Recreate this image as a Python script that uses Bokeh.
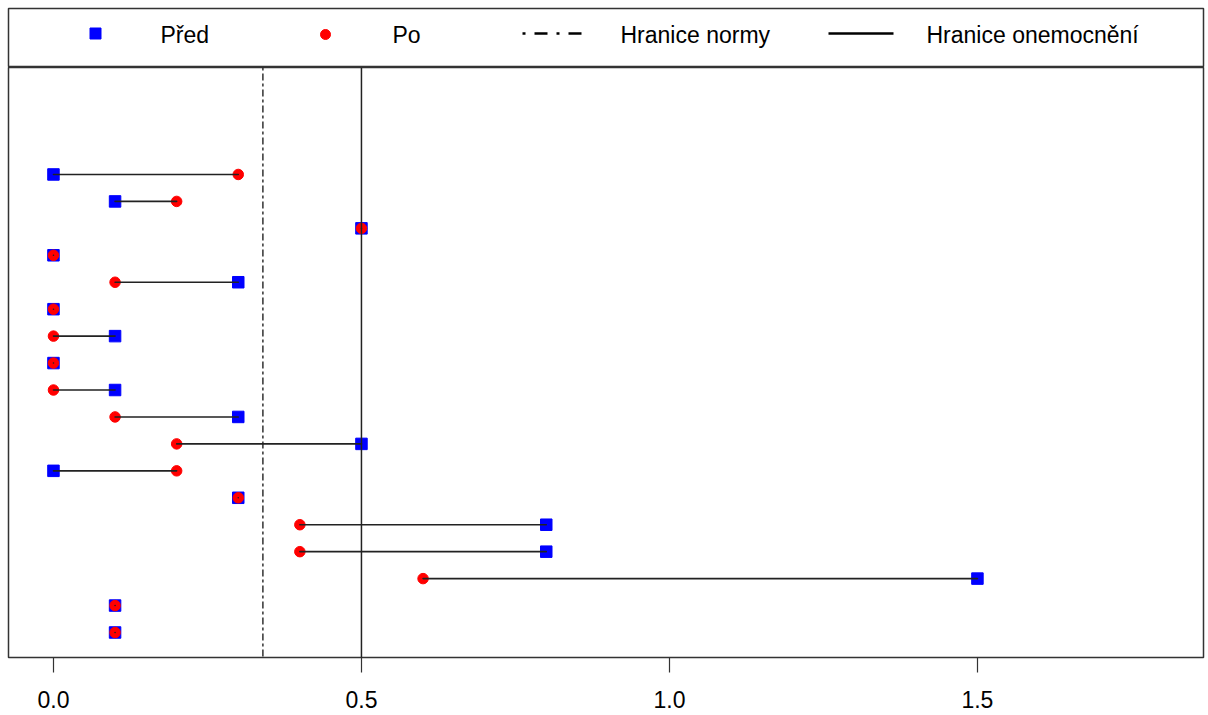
from bokeh.plotting import figure
from bokeh.models import Range1d, Span, FixedTicker, ColumnDataSource
from bokeh.layouts import column
from bokeh.embed import file_html
from bokeh.resources import INLINE
from bokeh.core.properties import value

# Patients listed top to bottom: value before and after treatment
pred = [0.0, 0.1, 0.5, 0.0, 0.3, 0.0, 0.1, 0.0, 0.1, 0.3, 0.5, 0.0, 0.3, 0.8, 0.8, 1.5, 0.1, 0.1]
po   = [0.3, 0.2, 0.5, 0.0, 0.1, 0.0, 0.0, 0.0, 0.0, 0.1, 0.2, 0.2, 0.3, 0.4, 0.4, 0.6, 0.1, 0.1]
row = list(range(len(pred), 0, -1))

norm_limit = 0.34
disease_limit = 0.5

x_ticks = [0.0, 0.5, 1.0, 1.5]
x_tick_labels = ["0.0", "0.5", "1.0", "1.5"]

legend_labels = ["Před", "Po", "Hranice normy", "Hranice onemocnění"]

FONT = "Liberation Sans"
W = 1208

src = ColumnDataSource(dict(pred=pred, po=po, row=row))

# ---- legend strip ----
leg = figure(width=W, height=67, output_backend="svg", toolbar_location=None,
             x_range=Range1d(8, 1203), y_range=Range1d(67, 8),
             min_border_left=8, min_border_right=5, min_border_top=8, min_border_bottom=0)
leg.axis.visible = False
leg.grid.visible = False
leg.outline_line_color = "#333333"
leg.outline_line_width = 1.5
leg.scatter([95], [33], marker="square", size=11, color="#0000FF")
leg.scatter([325], [34], marker="circle", size=10, color="#FF0000")
leg.line([522, 587], [33, 33], line_color="black", line_width=2.5, line_dash="3 9 13 9")
leg.line([828, 893], [33, 33], line_color="black", line_width=2.5)
leg.text(x=[160, 392, 620, 926], y=[34, 34, 34, 34], text=legend_labels,
         text_font=value(FONT), text_font_size="23px", text_color="black",
         text_baseline="middle", text_align="left")

# ---- main panel ----
p = figure(width=W, height=648, output_backend="svg", toolbar_location=None,
           x_range=Range1d(-0.073, 1.867), y_range=Range1d(0.072, 21.97),
           min_border_left=8, min_border_right=5, min_border_top=0, min_border_bottom=58)
p.grid.visible = False
p.yaxis.visible = False
p.outline_line_color = "#333333"
p.outline_line_width = 1.5

p.add_layout(Span(location=norm_limit, dimension="height", line_color="#222222",
                  line_width=1.4, line_dash="3 3 7 3"))
p.add_layout(Span(location=disease_limit, dimension="height", line_color="#222222",
                  line_width=1.5))

p.scatter("pred", "row", source=src, marker="square", size=11.5, color="#0000FF")
p.scatter("po", "row", source=src, marker="circle", size=10.5, color="#FF0000")
p.segment(x0="pred", y0="row", x1="po", y1="row", source=src,
          line_color="#222222", line_width=1.6, line_cap="round")

ax = p.xaxis[0]
ax.ticker = FixedTicker(ticks=x_ticks)
ax.major_label_overrides = {t: s for t, s in zip(x_ticks, x_tick_labels)}
ax.axis_line_color = None
ax.major_tick_out = 15
ax.major_tick_in = 0
ax.major_tick_line_color = "#333333"
ax.major_tick_line_width = 1.2
ax.minor_tick_line_color = None
ax.major_label_standoff = 18
ax.major_label_text_font = FONT
ax.major_label_text_font_size = "23px"
ax.major_label_text_color = "black"

layout = column(leg, p, spacing=0)
open("out.html", "w").write(file_html(layout, INLINE))
